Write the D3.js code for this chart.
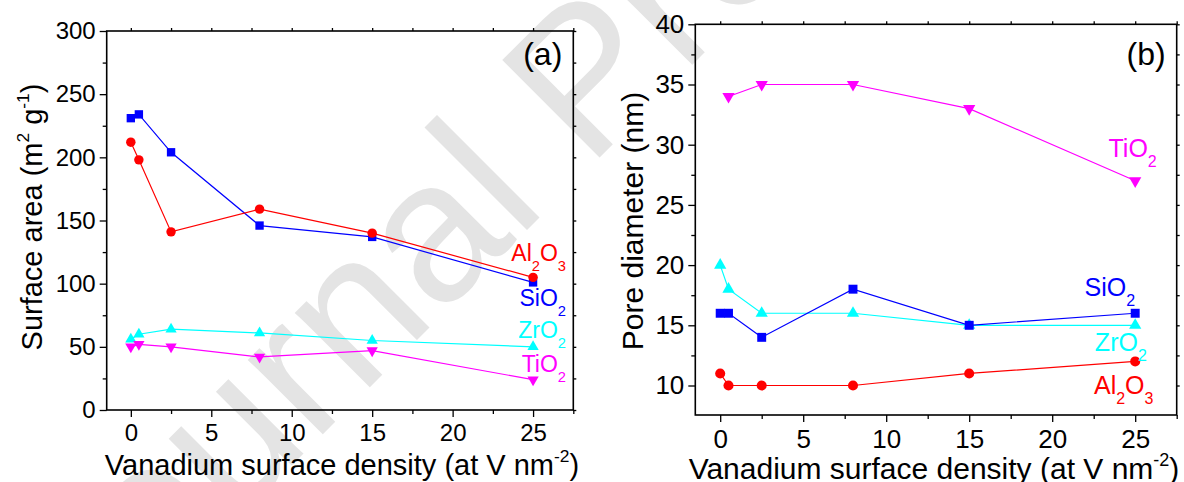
<!DOCTYPE html>
<html>
<head>
  <meta charset="utf-8">
  <title>Surface area and pore diameter</title>
  <script src="https://d3js.org/d3.v7.min.js"></script>
  <style>
    body { margin: 0; background: #fff; }
    svg text { font-family: "Liberation Sans", Arial, sans-serif; }
  </style>
</head>
<body>
  <div id="chart"></div>

  <script type="text/javascript">

    // vanadium surface density (at V nm-2)
    var densities = [0, 0.5, 2.5, 8, 15, 25];
    var densitiesTiO2Pore = [0.5, 2.5, 8, 15, 25];

    // (a) surface area (m2 g-1)
    var areaSiO2 = [231, 234, 204, 146, 137, 101];
    var areaAl2O3 = [212, 198, 141, 159, 140, 105];
    var areaZrO2 = [56, 60, 64, 61, 55, 50];
    var areaTiO2 = [50, 52, 50, 42, 47, 24];

    // (b) pore diameter (nm)
    var poreTiO2 = [34, 35, 35, 33, 27];
    var poreSiO2 = [16, 16, 14, 18, 15, 16];
    var poreZrO2 = [20, 18, 16, 16, 15, 15];
    var poreAl2O3 = [11, 10, 10, 10, 11, 12];

    // tick labels
    var xTicks = [0, 5, 10, 15, 20, 25];
    var areaTicks = [0, 50, 100, 150, 200, 250, 300];
    var poreTicks = [10, 15, 20, 25, 30, 35, 40];

    var W = 1184, H = 482;

    var svg = d3.select('#chart')
      .append('svg')
        .attr('width', W)
        .attr('height', H);

    // Wasserzeichen im Hintergrund
    svg.append('text')
        .attr('transform', 'translate(85,672) rotate(-45)')
        .attr('font-size', 200)
        .attr('fill', '#e4e4e4')
        .text('Journal Pre-proof');

    function zip(xs, ys) {
      return xs.map(function (x, i) { return { x: x, y: ys[i] }; });
    }

    function drawPanel(p) {
      var x = d3.scaleLinear().domain([-1.5, 27.5]).range([p.left, p.right]);
      var y = d3.scaleLinear().domain(p.yDomain).range([p.bottom, p.top]);
      var g = svg.append('g');

      var xMinor = d3.range(2.5, 27.6, 5);
      var yMinor = p.yMinor;

      function styleAxis(sel, fs) {
        sel.select('.domain').remove();
        sel.selectAll('line').attr('stroke', '#000').attr('stroke-width', 1.3);
        sel.selectAll('text').attr('font-size', fs).attr('fill', '#000')
          .attr('font-family', '"Liberation Sans", Arial, sans-serif');
      }

      // untere Achse
      g.append('g').attr('transform', 'translate(0,' + p.bottom + ')')
        .call(d3.axisBottom(x).tickValues(xTicks).tickSizeInner(7).tickSizeOuter(0).tickPadding(p.xPad))
        .call(styleAxis, p.tickFont);
      g.append('g').attr('transform', 'translate(0,' + p.bottom + ')')
        .call(d3.axisBottom(x).tickValues(xMinor).tickSize(4).tickFormat(''))
        .call(styleAxis, p.tickFont);
      // linke Achse
      g.append('g').attr('transform', 'translate(' + p.left + ',0)')
        .call(d3.axisLeft(y).tickValues(p.yTicks).tickSizeInner(7).tickSizeOuter(0).tickPadding(4))
        .call(styleAxis, p.tickFont);
      g.append('g').attr('transform', 'translate(' + p.left + ',0)')
        .call(d3.axisLeft(y).tickValues(yMinor).tickSize(4).tickFormat(''))
        .call(styleAxis, p.tickFont);
      // obere und rechte Achse (nur kleine Striche)
      g.append('g').attr('transform', 'translate(0,' + p.top + ')')
        .call(d3.axisTop(x).tickValues(xTicks.concat(xMinor)).tickSize(3).tickFormat(''))
        .call(styleAxis, p.tickFont);
      g.append('g').attr('transform', 'translate(' + p.right + ',0)')
        .call(d3.axisRight(y).tickValues(p.yTicks.concat(yMinor)).tickSize(3).tickFormat(''))
        .call(styleAxis, p.tickFont);

      // Rahmen
      g.append('rect')
        .attr('x', p.left).attr('y', p.top)
        .attr('width', p.right - p.left).attr('height', p.bottom - p.top)
        .attr('fill', 'none').attr('stroke', '#000').attr('stroke-width', 1.6);

      // Linien und Symbole
      var line = d3.line().x(function (d) { return x(d.x); }).y(function (d) { return y(d.y); });
      p.series.forEach(function (s) {
        var pts = zip(s.xs, s.ys);
        g.append('path').datum(pts)
          .attr('d', line).attr('fill', 'none')
          .attr('stroke', s.color).attr('stroke-width', 1.2);
        var sym = d3.symbol().type(s.shape).size(s.size);
        g.selectAll(null).data(pts).enter().append('path')
          .attr('d', sym)
          .attr('transform', function (d) {
            return 'translate(' + x(d.x) + ',' + y(d.y) + ')' + (s.flip ? ' rotate(180)' : '');
          })
          .attr('fill', s.color);
      });

      // Beschriftung der Reihen (chemische Formeln mit Index)
      p.labels.forEach(function (l) {
        var t = g.append('text')
          .attr('x', x(l.x)).attr('y', y(l.y))
          .attr('text-anchor', 'end')
          .attr('font-size', p.labelFont)
          .attr('fill', l.color);
        l.parts.forEach(function (part, i) {
          var sub = i % 2 === 1;
          var prevSub = i > 0 && (i - 1) % 2 === 1;
          var ts = t.append('tspan').text(part);
          if (sub) ts.attr('dy', 10).attr('font-size', p.labelFont * 0.64);
          else if (prevSub) ts.attr('dy', -10);
        });
      });

      // Panelbezeichnung
      g.append('text')
        .attr('x', p.right - 11).attr('y', p.top + (65 - p.top) + (p.top - 31) * 0)
        .attr('text-anchor', 'end')
        .attr('font-size', 32)
        .text(p.tag);

      // x-Achsentitel
      var xt = g.append('text')
        .attr('x', (p.left + p.right) / 2 + p.xTitleShift).attr('y', p.xTitleY)
        .attr('text-anchor', 'middle')
        .attr('font-size', p.titleFont);
      xt.append('tspan').text('Vanadium surface density (at V nm');
      xt.append('tspan').attr('dy', -13).attr('font-size', p.titleFont * 0.6).text('-2');
      xt.append('tspan').attr('dy', 13).text(')');

      // y-Achsentitel
      var yt = g.append('text')
        .attr('transform', 'translate(' + p.yTitleX + ',' + p.yTitleY + ') rotate(-90)')
        .attr('text-anchor', 'middle')
        .attr('font-size', p.titleFont);
      p.yTitle.forEach(function (part, i) {
        var ts = yt.append('tspan').text(part);
        if (i % 2 === 1) ts.attr('dy', -13).attr('font-size', p.titleFont * 0.6);
        else if (i > 0) ts.attr('dy', 13);
      });
    }

    // (a) Oberfläche
    drawPanel({
      left: 106.7, right: 573.3, top: 31, bottom: 410,
      yDomain: [0, 300], yTicks: areaTicks, yMinor: d3.range(25, 300, 50),
      tickFont: 24, labelFont: 23, titleFont: 29, xPad: 7,
      xTitleY: 475, xTitleShift: 2, yTitleX: 42, yTitleY: 217,
      yTitle: ['Surface area (m', '2', ' g', '-1', ')'],
      tag: '(a)',
      series: [
        { xs: densities, ys: areaSiO2, color: '#0000ff', shape: d3.symbolSquare, size: 70 },
        { xs: densities, ys: areaAl2O3, color: '#ff0000', shape: d3.symbolCircle, size: 70 },
        { xs: densities, ys: areaZrO2, color: '#00ffff', shape: d3.symbolTriangle, size: 55 },
        { xs: densities, ys: areaTiO2, color: '#ff00ff', shape: d3.symbolTriangle, size: 55, flip: true }
      ],
      labels: [
        { parts: ['Al', '2', 'O', '3'], color: '#ff0000', x: 27.05, y: 118 },
        { parts: ['SiO', '2'], color: '#0000ff', x: 27.05, y: 82 },
        { parts: ['ZrO', '2'], color: '#00ffff', x: 27.05, y: 57 },
        { parts: ['TiO', '2'], color: '#ff00ff', x: 27.05, y: 30 }
      ]
    });

    // (b) Porendurchmesser
    drawPanel({
      left: 695.3, right: 1176.7, top: 24.3, bottom: 415,
      yDomain: [7.55, 40], yTicks: poreTicks, yMinor: d3.range(12.5, 40, 5),
      tickFont: 26, labelFont: 25, titleFont: 30, xPad: 8,
      xTitleY: 479, xTitleShift: -2, yTitleX: 643, yTitleY: 221,
      yTitle: ['Pore diameter (nm)'],
      tag: '(b)',
      series: [
        { xs: densitiesTiO2Pore, ys: poreTiO2, color: '#ff00ff', shape: d3.symbolTriangle, size: 65, flip: true },
        { xs: densities, ys: poreZrO2, color: '#00ffff', shape: d3.symbolTriangle, size: 65 },
        { xs: densities, ys: poreSiO2, color: '#0000ff', shape: d3.symbolSquare, size: 80 },
        { xs: densities, ys: poreAl2O3, color: '#ff0000', shape: d3.symbolCircle, size: 80 }
      ],
      labels: [
        { parts: ['TiO', '2'], color: '#ff00ff', x: 26.3, y: 29.0 },
        { parts: ['SiO', '2'], color: '#0000ff', x: 25.0, y: 17.46 },
        { parts: ['ZrO', '2'], color: '#00ffff', x: 25.7, y: 12.9 },
        { parts: ['Al', '2', 'O', '3'], color: '#ff0000', x: 26.1, y: 9.3 }
      ]
    });
  </script>
</body>
</html>
